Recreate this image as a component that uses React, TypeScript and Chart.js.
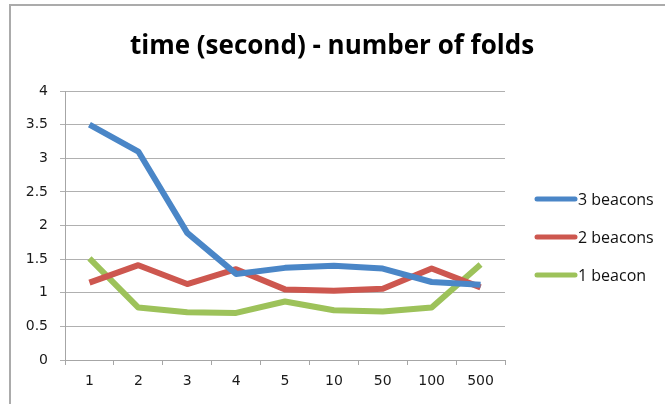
import React, { useEffect, useRef } from "react";
import { Chart, registerables } from "chart.js";

Chart.register(...registerables);

const folds = ["1", "2", "3", "4", "5", "10", "50", "100", "500"];
const threeBeacons = [3.5, 3.1, 1.89, 1.28, 1.37, 1.4, 1.36, 1.16, 1.12];
const twoBeacons = [1.15, 1.41, 1.13, 1.35, 1.05, 1.03, 1.06, 1.36, 1.08];
const oneBeacon = [1.51, 0.78, 0.71, 0.7, 0.87, 0.74, 0.72, 0.78, 1.42];
const seriesNames = ["3 beacons", "2 beacons", "1 beacon"];
const seriesColors = ["#4A86C7", "#CD574F", "#9DC25A"];
const chartTitle = "time (second) - number of folds";

// Outer frame, centred title and the legend on the right.
const decorations = {
  id: "decorations",
  afterDraw(chart: any) {
    const ctx = chart.ctx;
    ctx.save();
    ctx.strokeStyle = "#ababab";
    ctx.lineWidth = 2;
    ctx.beginPath();
    ctx.moveTo(10, 404);
    ctx.lineTo(10, 5);
    ctx.lineTo(665, 5);
    ctx.stroke();

    ctx.fillStyle = "#000";
    ctx.font = "bold 26px 'Open Sans'";
    ctx.textAlign = "center";
    ctx.textBaseline = "middle";
    ctx.fillText(chartTitle, 332, 47);

    ctx.font = "16px 'Open Sans'";
    ctx.textAlign = "left";
    chart.data.datasets.forEach((ds: any, i: number) => {
      const y = 199 + i * 38;
      ctx.strokeStyle = ds.borderColor;
      ctx.lineWidth = 5;
      ctx.lineCap = "round";
      ctx.beginPath();
      ctx.moveTo(537, y);
      ctx.lineTo(575, y);
      ctx.stroke();
      ctx.fillStyle = "#111";
      ctx.fillText(ds.label, 578, y + 1);
    });
    ctx.restore();
  },
};

export default function App() {
  const ref = useRef<HTMLCanvasElement>(null);

  useEffect(() => {
    if (!ref.current) return;
    const values = [threeBeacons, twoBeacons, oneBeacon];
    const chart = new Chart(ref.current, {
      type: "line",
      data: {
        labels: folds,
        datasets: values.map((v, i) => ({
          label: seriesNames[i],
          data: v,
          borderColor: seriesColors[i],
          backgroundColor: seriesColors[i],
          borderWidth: 6,
          pointRadius: 0,
          tension: 0,
          borderJoinStyle: "round" as const,
        })),
      },
      options: {
        responsive: false,
        animation: false,
        layout: { padding: { top: 91, right: 160, bottom: 0, left: 0 } },
        plugins: {
          legend: { display: false },
          title: { display: false },
          tooltip: { enabled: false },
        },
        scales: {
          x: {
            offset: true,
            afterFit: (s: any) => {
              s.height = 44;
            },
            grid: {
              offset: true,
              drawOnChartArea: false,
              drawTicks: true,
              tickLength: 5,
              color: "#a6a6a6",
            },
            border: { display: true, color: "#a6a6a6", width: 1 },
            ticks: {
              color: "#1a1a1a",
              padding: 8,
              maxRotation: 0,
              font: { family: "'DejaVu Sans'", size: 14 },
            },
          },
          y: {
            min: 0,
            max: 4,
            afterFit: (s: any) => {
              s.width = 65;
            },
            grid: {
              color: "#b0b0b0",
              lineWidth: 1,
              drawTicks: true,
              tickLength: 5,
            },
            border: { display: true, color: "#a6a6a6", width: 1 },
            ticks: {
              stepSize: 0.5,
              color: "#1a1a1a",
              padding: 12,
              font: { family: "'DejaVu Sans'", size: 14 },
              callback: (v: any) => String(Number(v)),
            },
          },
        },
      },
      plugins: [decorations],
    });
    return () => chart.destroy();
  }, []);

  return (
    <div style={{ position: "fixed", left: 0, top: 0, width: 665, height: 404, background: "#fff" }}>
      <canvas ref={ref} width={665} height={404} />
    </div>
  );
}
